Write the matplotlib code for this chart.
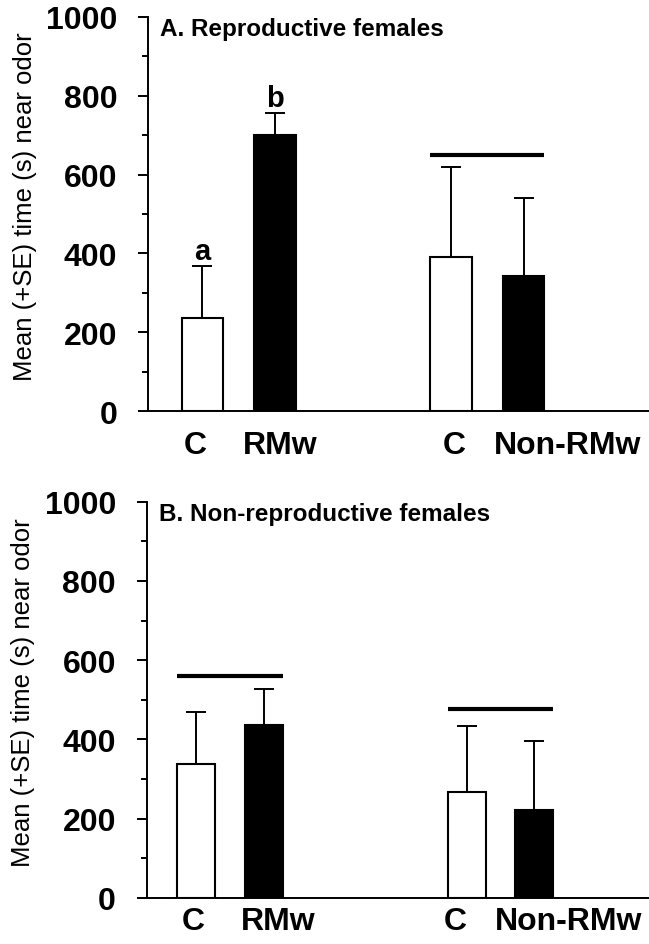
import numpy as np
import matplotlib
matplotlib.use("Agg")
import matplotlib.pyplot as plt
from matplotlib.ticker import MultipleLocator

plt.rcParams['font.family'] = ['Liberation Sans', 'DejaVu Sans']

### --- Data ---
groups = ["C", "RMw", "C", "Non-RMw"]
bar_colors = ["white", "black", "white", "black"]

# Panel A: reproductive females
mean_a = [236, 700, 391, 343]
se_a = [132, 56, 228, 198]
letters_a = ["a", "b", "", ""]
sig_a = [(2, 3, 650)]          # (first bar, last bar, y)

# Panel B: non-reproductive females
mean_b = [338, 437, 268, 222]
se_b = [132, 91, 166, 174]
letters_b = ["", "", "", ""]
sig_b = [(0, 1, 561), (2, 3, 477)]

titles = ["A. Reproductive females", "B. Non-reproductive females"]
ylabel = "Mean (+SE) time (s) near odor"

### --- Layout (axis units) ---
layout_a = dict(pos=[1, 2, 4.43, 5.43], lab=[0.9, 2.07, 4.47, 6.04], xpad=14,
                xlim=(0.25, 7.16), width=0.57, rect=[0.228, 0.564, 0.772, 0.417])
layout_b = dict(pos=[1, 2, 4.96, 5.93], lab=[0.96, 2.2, 4.78, 6.43], xpad=6,
                xlim=(0.285, 7.61), width=0.555, rect=[0.226, 0.049, 0.774, 0.419])

fig = plt.figure(figsize=(6.49, 9.45), dpi=100)


def draw_panel(rect, lay, means, ses, letters, sigs, title):
    ax = fig.add_axes(rect)
    pos = lay["pos"]
    w = lay["width"]
    ax.bar(pos, means, width=w, color=bar_colors, edgecolor="black", linewidth=1.5, zorder=2)
    ax.errorbar(pos, means, yerr=[np.zeros(len(ses)), ses], fmt="none", ecolor="black",
                elinewidth=1.4, capsize=7, capthick=1.4, zorder=1)
    for x, m, s, t in zip(pos, means, ses, letters):
        if t:
            ax.annotate(t, (x, m + s), xytext=(0, 5), textcoords="offset points",
                        ha="center", va="baseline", fontsize=21, fontweight="bold")
    for i, j, y in sigs:
        ax.plot([pos[i] - w / 2, pos[j] + w / 2], [y, y], color="black", lw=3,
                solid_capstyle="butt", zorder=3)

    ax.set_xlim(*lay["xlim"])
    ax.set_ylim(0, 1000)
    ax.yaxis.set_major_locator(MultipleLocator(200))
    ax.yaxis.set_minor_locator(MultipleLocator(100))
    ax.set_xticks(lay["lab"])
    ax.set_xticklabels(groups, fontsize=23, fontweight="bold")
    ax.tick_params(axis="x", length=0, pad=lay["xpad"])
    ax.tick_params(axis="y", which="major", length=7, width=1.4, pad=15, labelsize=23)
    ax.tick_params(axis="y", which="minor", length=4.5, width=1.4)
    for lbl in ax.get_yticklabels():
        lbl.set_fontweight("bold")
    for side in ["top", "right"]:
        ax.spines[side].set_visible(False)
    for side in ["left", "bottom"]:
        ax.spines[side].set_linewidth(1.4)

    ax.set_ylabel(ylabel, fontsize=18.5)
    ax.yaxis.set_label_coords(-0.222, 0.52)
    ax.text(0.024, 1.0, title, transform=ax.transAxes, ha="left", va="top",
            fontsize=17.5, fontweight="bold")
    return ax


draw_panel(layout_a["rect"], layout_a, mean_a, se_a, letters_a, sig_a, titles[0])
draw_panel(layout_b["rect"], layout_b, mean_b, se_b, letters_b, sig_b, titles[1])

fig.savefig("out.png", dpi=100)
